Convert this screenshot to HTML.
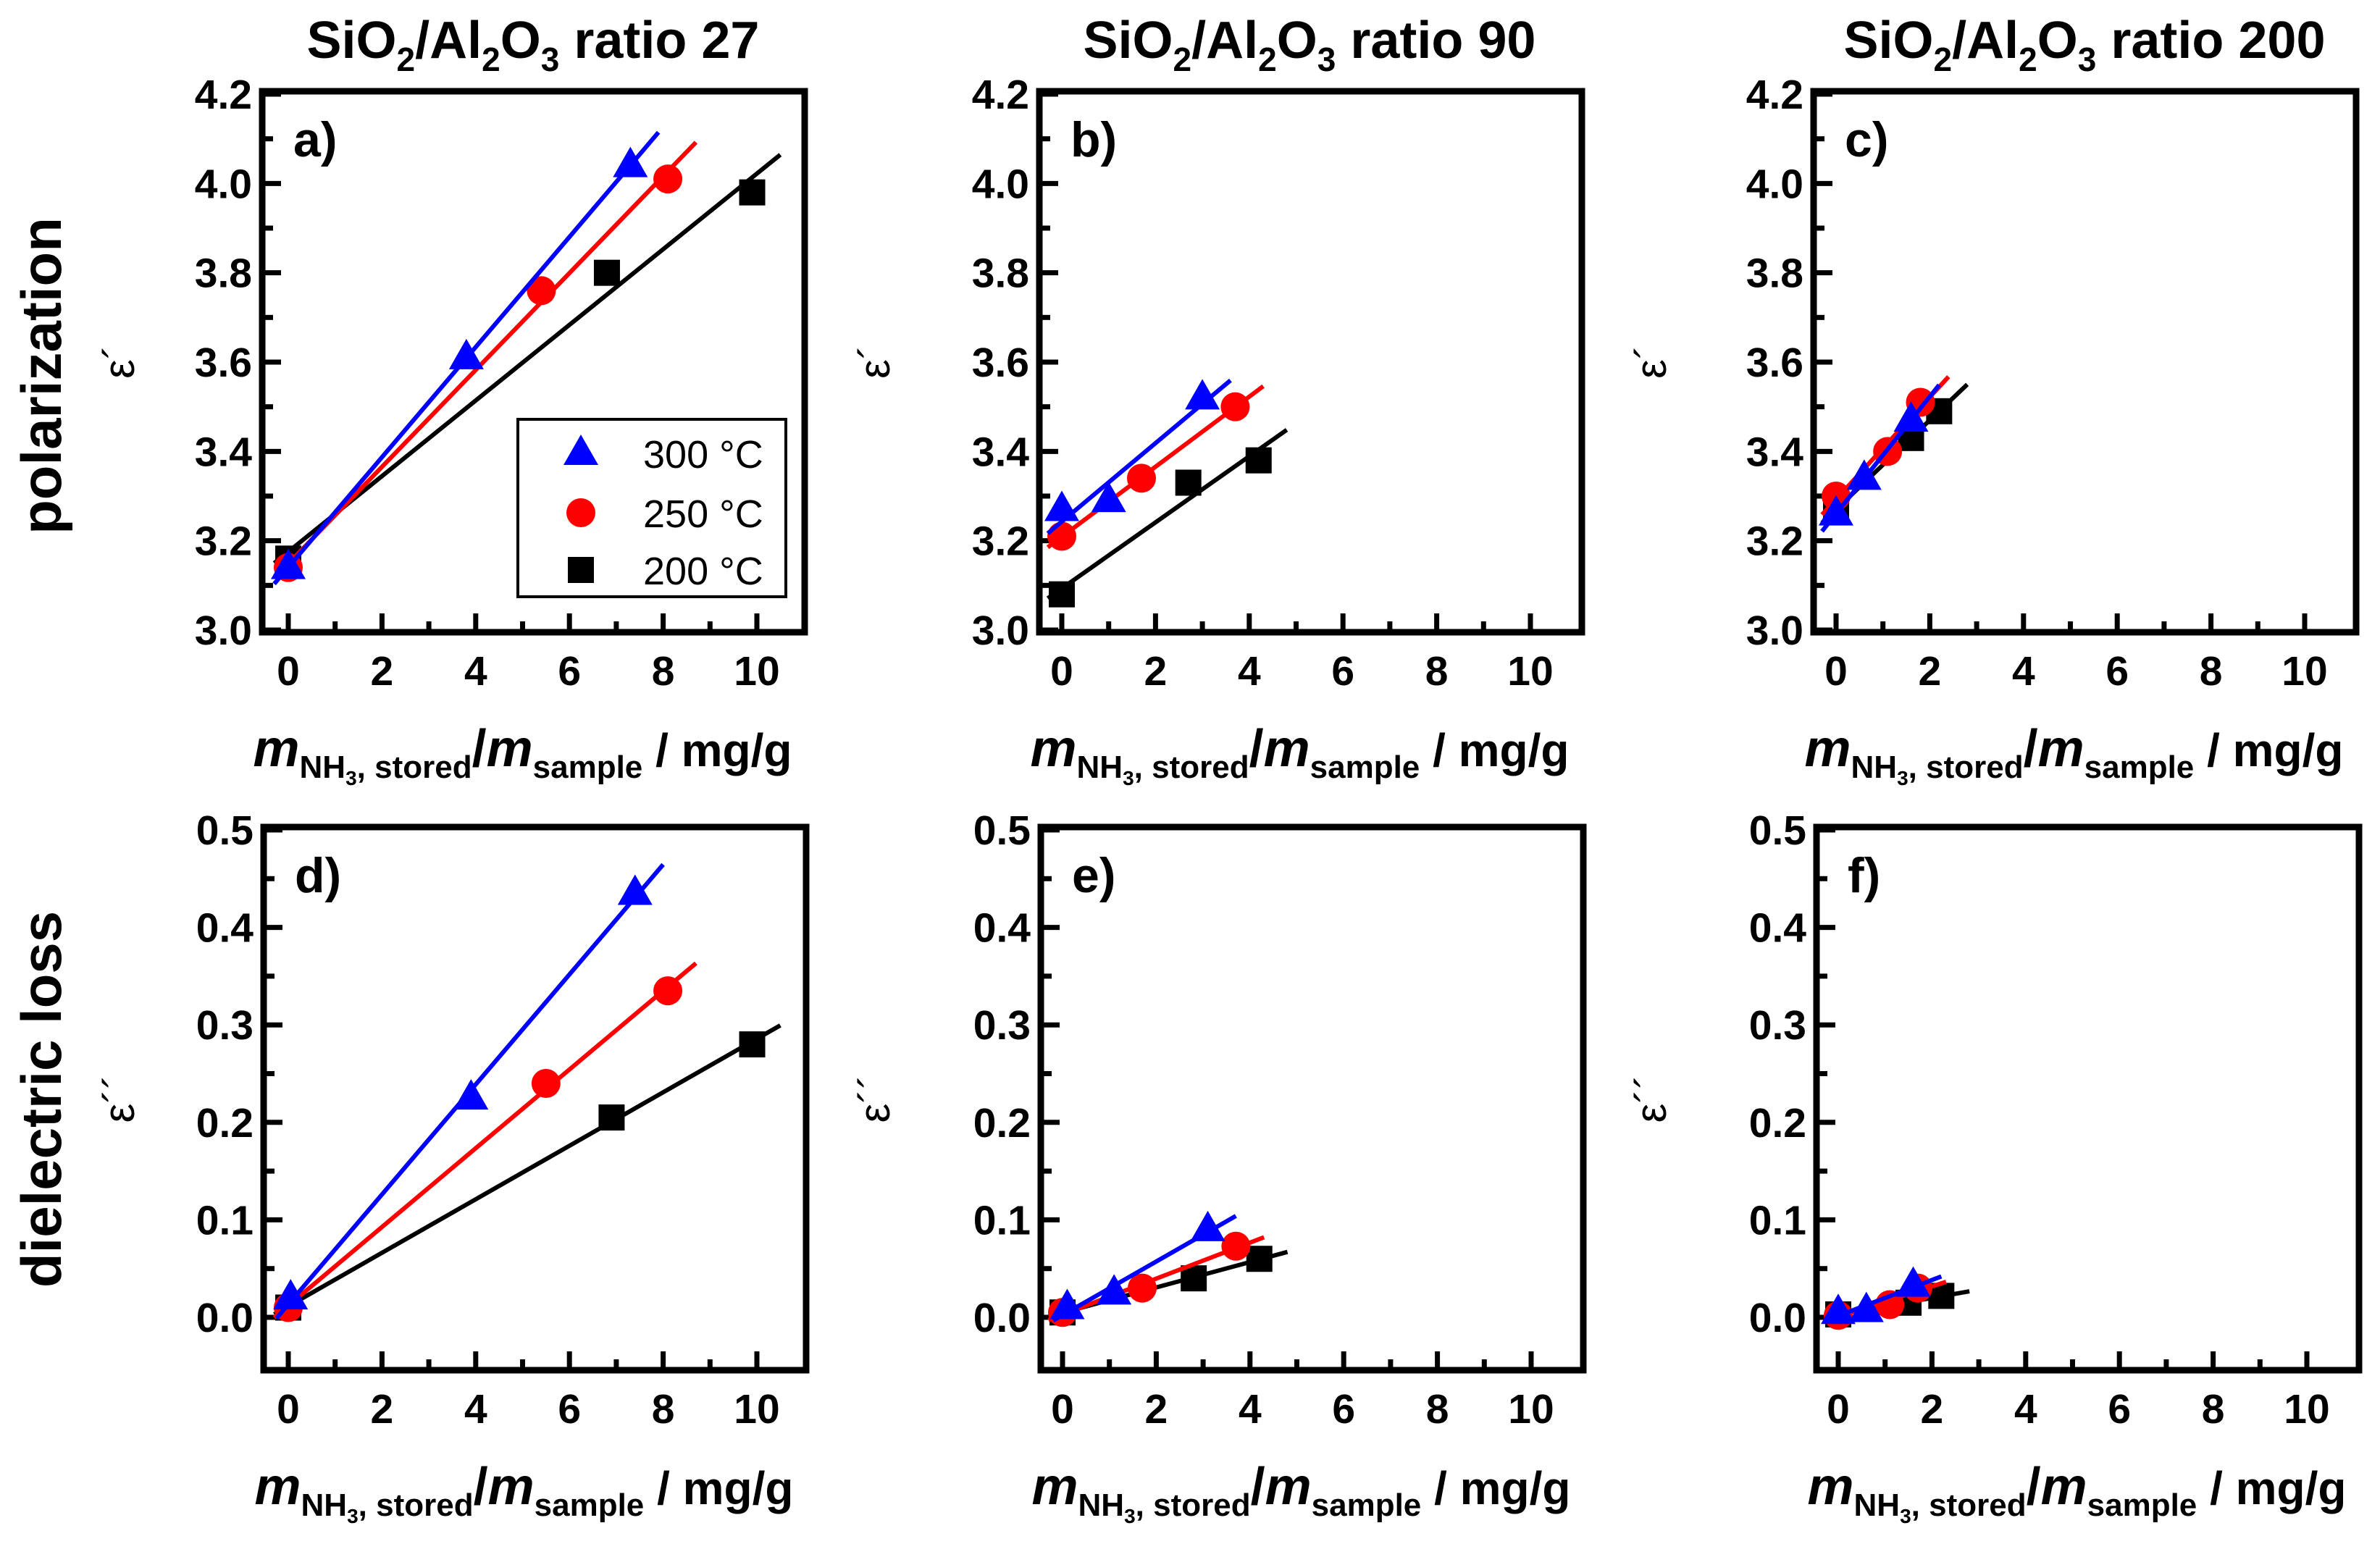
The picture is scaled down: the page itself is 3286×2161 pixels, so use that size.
<!DOCTYPE html>
<html><head><meta charset="utf-8">
<style>
html,body{margin:0;padding:0;background:#fff;}
svg{display:block;font-family:"Liberation Sans",Arial,sans-serif;font-weight:bold;}
</style></head>
<body>
<svg id="fig" width="3286" height="2161" viewBox="0 0 3286 2161" xmlns="http://www.w3.org/2000/svg"></svg>
<script>
// ---- data ----
const xTicks = [0, 2, 4, 6, 8, 10];
const yTicksTop = [3.0, 3.2, 3.4, 3.6, 3.8, 4.0, 4.2];
const yTicksBot = [0.0, 0.1, 0.2, 0.3, 0.4, 0.5];
const panelTitles = ["27", "90", "200"];
const seriesLabels = ["300 °C", "250 °C", "200 °C"];

const a300x = [0, 3.8, 7.3], a300y = [3.14, 3.61, 4.04];
const a250x = [0, 5.4, 8.1], a250y = [3.14, 3.76, 4.01];
const a200x = [0, 6.8, 9.9], a200y = [3.16, 3.80, 3.98];
const b300x = [0, 1.0, 3.0], b300y = [3.27, 3.29, 3.52];
const b250x = [0, 1.7, 3.7], b250y = [3.21, 3.34, 3.50];
const b200x = [0, 2.7, 4.2], b200y = [3.08, 3.33, 3.38];
const c300x = [0, 0.6, 1.6], c300y = [3.26, 3.34, 3.47];
const c250x = [0, 1.1, 1.8], c250y = [3.30, 3.40, 3.51];
const c200x = [0, 1.6, 2.2], c200y = [3.27, 3.43, 3.49];
const d300x = [0.05, 3.9, 7.4], d300y = [0.02, 0.225, 0.435];
const d250x = [0, 5.5, 8.1], d250y = [0.01, 0.24, 0.335];
const d200x = [0, 6.9, 9.9], d200y = [0.01, 0.205, 0.28];
const e300x = [0.1, 1.1, 3.1], e300y = [0.01, 0.025, 0.09];
const e250x = [0, 1.7, 3.7], e250y = [0.005, 0.03, 0.073];
const e200x = [0, 2.8, 4.2], e200y = [0.005, 0.04, 0.06];
const f300x = [0, 0.6, 1.6], f300y = [0.005, 0.007, 0.033];
const f250x = [0, 1.1, 1.7], f250y = [0.002, 0.013, 0.03];
const f200x = [0, 1.5, 2.2], f200y = [0.003, 0.015, 0.022];

// ---- drawing ----
const NS = "http://www.w3.org/2000/svg";
const svg = document.getElementById("fig");
function mk(tag, attrs, parent) {
  const e = document.createElementNS(NS, tag);
  for (const k in attrs) e.setAttribute(k, attrs[k]);
  (parent || svg).appendChild(e);
  return e;
}
const colors = ["#0000ff", "#ff0000", "#000000"];

function fit(xs, ys) {
  const n = xs.length; let sx=0, sy=0, sxx=0, sxy=0;
  for (let i=0;i<n;i++){sx+=xs[i];sy+=ys[i];sxx+=xs[i]*xs[i];sxy+=xs[i]*ys[i];}
  const m = (n*sxy - sx*sy)/(n*sxx - sx*sx);
  return {m:m, b:(sy - m*sx)/n};
}

function marker(g, kind, cx, cy, col) {
  let el;
  if (kind === 0) {
    el = mk("polygon", {points:`${cx},${cy-26} ${cx-24},${cy+16} ${cx+24},${cy+16}`, fill:col}, g);
  } else if (kind === 1) {
    el = mk("circle", {cx:cx, cy:cy, r:20, fill:col}, g);
  } else {
    el = mk("rect", {x:cx-18, y:cy-18, width:36, height:36, fill:col}, g);
  }
  return el;
}

function panel(id, L, x0, top, bottom, yMin, yMax, yPixMin, yPixMax, yTicks, yMinor, fmt, series, letter, yLabX, yLabText) {
  const R = L + 749;
  const unit = 64.7;
  const X = v => x0 + v * unit;
  const Y = v => yPixMin + (v - yMin) / (yMax - yMin) * (yPixMax - yPixMin);
  const g = mk("g", {});
  
  
  const fr = mk("rect", {x:L, y:top, width:R-L, height:bottom-top, fill:"none", stroke:"#000", "stroke-width":9}, g);
  
  
  for (let v = 0; v <= 10; v += 1) {
    const major = v % 2 === 0;
    const t = mk("line", {x1:X(v), x2:X(v), y1:bottom, y2:bottom-(major?26:15), stroke:"#000", "stroke-width":7}, g);
    
    
  }
  xTicks.forEach(v => {
    const t = mk("text", {x:X(v), y:bottom+73, "font-size":57, "text-anchor":"middle"}, g);
    t.textContent = v;
    
    
  });
  yMinor.forEach(v => {
    const t = mk("line", {x1:L, x2:L+15, y1:Y(v), y2:Y(v), stroke:"#000", "stroke-width":7}, g);
    
    
  });
  yTicks.forEach(v => {
    const t = mk("line", {x1:L, x2:L+26, y1:Y(v), y2:Y(v), stroke:"#000", "stroke-width":7}, g);
    
    
    const tl = mk("text", {x:L-14, y:Y(v)+20, "font-size":57, "text-anchor":"end"}, g);
    tl.textContent = fmt(v);
    
    
  });
  const lt = mk("text", {x:L+43, y:top+90, "font-size":68}, g);
  lt.textContent = letter + ")";
  
  
  const yl = mk("text", {x:yLabX, y:(top+bottom)/2, "font-size":60, "font-weight":"normal", "text-anchor":"middle", transform:`rotate(-90 ${yLabX} ${(top+bottom)/2})`}, g);
  yl.textContent = yLabText;
  
  
  const xt = mk("text", {x:(L+R)/2 - 15, y:bottom+185, "font-size":64, "text-anchor":"middle"}, g);
  
  
  xt.innerHTML = '<tspan font-style="italic" font-size="72">m</tspan><tspan font-size="44" dy="16">NH</tspan><tspan font-size="28" dy="10">3</tspan><tspan font-size="44" dy="-10">, stored</tspan><tspan font-size="72" dy="-16">/</tspan><tspan font-style="italic" font-size="72">m</tspan><tspan font-size="44" dy="16">sample</tspan><tspan font-size="64" dy="-16"> / mg/g</tspan>';
  // series drawn 200, 250, 300 so blue ends on top
  [2, 1, 0].forEach(k => {
    const s = series[k];
    const sg = mk("g", {}, g);
    
    
    const f = fit(s[0], s[1]);
    const xa = Math.min(...s[0]) - 0.3, xb = Math.max(...s[0]) + 0.6;
    const ln = mk("line", {x1:X(xa), y1:Y(f.m*xa+f.b), x2:X(xb), y2:Y(f.m*xb+f.b), stroke:colors[k], "stroke-width":6}, sg);
    
    
    s[0].forEach((xv, i) => {
      const m = marker(sg, k, X(xv), Y(s[1][i]), colors[k]);
      
      
    });
  });
  return {X, Y};
}

const topMinor = [3.1, 3.3, 3.5, 3.7, 3.9, 4.1];
const botMinor = [0.05, 0.15, 0.25, 0.35, 0.45];
const f1 = v => v.toFixed(1);
const T = [126, 873, 3.0, 4.2, 870, 130];
const B = [1142, 1892, 0.0, 0.5, 1819, 1146];

panel("a", 362, 398, T[0], T[1], T[2], T[3], T[4], T[5], yTicksTop, topMinor, f1,
  [[a300x,a300y],[a250x,a250y],[a200x,a200y]], "a", 185, "ε´");
panel("b", 1435, 1466, T[0], T[1], T[2], T[3], T[4], T[5], yTicksTop, topMinor, f1,
  [[b300x,b300y],[b250x,b250y],[b200x,b200y]], "b", 1228, "ε´");
panel("c", 2504, 2535, T[0], T[1], T[2], T[3], T[4], T[5], yTicksTop, topMinor, f1,
  [[c300x,c300y],[c250x,c250y],[c200x,c200y]], "c", 2300, "ε´");
panel("d", 364, 398, B[0], B[1], B[2], B[3], B[4], B[5], yTicksBot, botMinor, f1,
  [[d300x,d300y],[d250x,d250y],[d200x,d200y]], "d", 185, "ε´´");
panel("e", 1437, 1467, B[0], B[1], B[2], B[3], B[4], B[5], yTicksBot, botMinor, f1,
  [[e300x,e300y],[e250x,e250y],[e200x,e200y]], "e", 1228, "ε´´");
panel("f", 2508, 2538, B[0], B[1], B[2], B[3], B[4], B[5], yTicksBot, botMinor, f1,
  [[f300x,f300y],[f250x,f250y],[f200x,f200y]], "f", 2300, "ε´´");

[[736, 0],[1808, 1],[2878, 2]].forEach(([cx, i]) => {
  const t = mk("text", {x:cx, y:80, "font-size":72, "text-anchor":"middle"});
  
  
  t.innerHTML = 'SiO<tspan font-size="46" dy="18">2</tspan><tspan dy="-18">/Al</tspan><tspan font-size="46" dy="18">2</tspan><tspan dy="-18">O</tspan><tspan font-size="46" dy="18">3</tspan><tspan dy="-18"> ratio ' + panelTitles[i] + '</tspan>';
});

[[84, 519, "polarization"],[84, 1518, "dielectric loss"]].forEach(([x, y, s]) => {
  const t = mk("text", {x:x, y:y, "font-size":78, "text-anchor":"middle", transform:`rotate(-90 ${x} ${y})`});
  t.textContent = s;
  
  
});

const lg = mk("g", {});


const lb = mk("rect", {x:715, y:579, width:370, height:245, fill:"#fff", stroke:"#000", "stroke-width":4}, lg);


[626, 708, 787].forEach((ly, k) => {
  const m = marker(lg, k, 802, ly, colors[k]);
  
  
  const t = mk("text", {x:888, y:ly+20, "font-size":54, "font-weight":"normal"}, lg);
  t.textContent = seriesLabels[k];
  
  
});
</script>
</body></html>
